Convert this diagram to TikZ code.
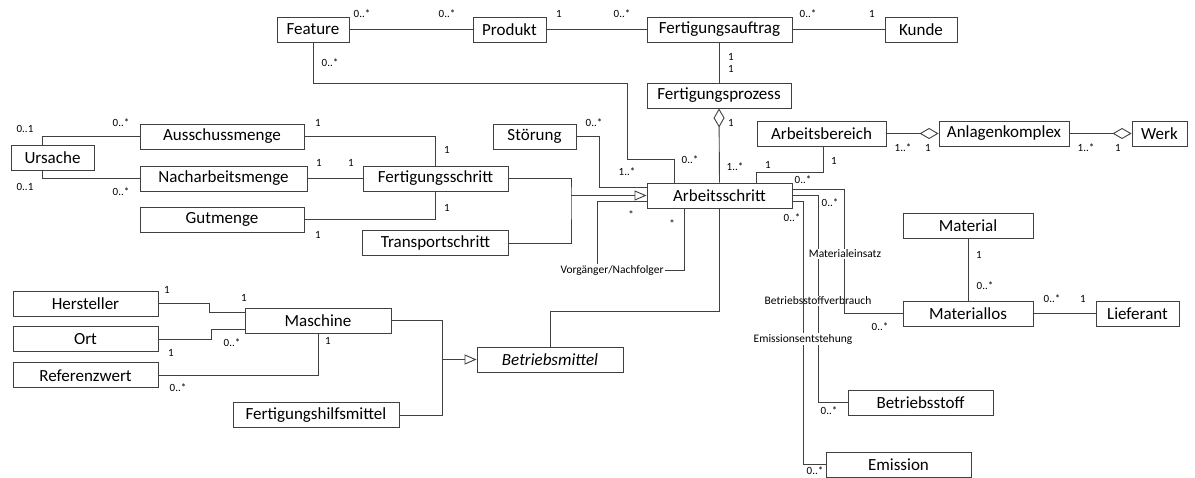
\documentclass[tikz,border=0pt]{standalone}
\usepackage{fontspec}
\setmainfont{Carlito}
\usepackage{tikz}
\usetikzlibrary{arrows.meta,positioning}

\begin{document}
\begin{tikzpicture}[x=1pt,y=-1pt]
\tikzstyle{main}=[rectangle, draw=black!75, line width=0.9pt, minimum height=25pt, inner sep=0pt, font=\fontsize{17}{20}\selectfont]
\tikzstyle{connect}=[draw=black!75, line width=0.9pt]
\tikzstyle{mult}=[font=\fontsize{11}{13}\selectfont, inner sep=0pt]
\tikzstyle{role}=[font=\fontsize{11.5}{13}\selectfont, inner sep=1pt, fill=white]
\tikzstyle{inherit}=[-{Triangle[open, length=12pt, width=10pt]}]
\tikzstyle{aggr}=[{Diamond[open, length=19pt, width=11pt]}-]
\useasboundingbox (0,0) rectangle (1195,478);

  % top row
  \node[main, minimum width=72pt] (feature) at (313,29.5) {Feature};
  \node[main, minimum width=73pt] (produkt) at (509.5,29.5) {Produkt};
  \node[main, minimum width=145pt] (fauftrag) at (719.5,29.5) {Fertigungsauftrag};
  \node[main, minimum width=72pt] (kunde) at (921,29.5) {Kunde};
  \node[main, minimum width=144pt] (fprozess) at (719,95.5) {Fertigungsprozess};
  \node[main, minimum width=129pt] (abereich) at (821.5,133.5) {Arbeitsbereich};
  \node[main, minimum width=130pt] (akomplex) at (1004,133.5) {Anlagenkomplex};
  \node[main, minimum width=55pt] (werk) at (1159.5,133.5) {Werk};
  % Arbeitsschritt und Umgebung
  \node[main, minimum width=83pt] (ursache) at (52.5,157.5) {Ursache};
  \node[main, minimum width=164pt] (ausschuss) at (222,136.5) {Ausschussmenge};
  \node[main, minimum width=167pt] (nacharbeit) at (223.5,178.5) {Nacharbeitsmenge};
  \node[main, minimum width=164pt] (gutmenge) at (222,219.5) {Gutmenge};
  \node[main, minimum width=145pt] (fschritt) at (435.5,178.5) {Fertigungsschritt};
  \node[main, minimum width=146pt] (tschritt) [below=39pt of fschritt] {Transportschritt};
  \node[main, minimum width=83pt] (stoerung) at (534.5,136.5) {Störung};
  \node[main, minimum width=145pt] (aschritt) at (719.5,195.5) {Arbeitsschritt};
  % Betriebsmittel
  \node[main, minimum width=145pt] (hersteller) at (85.5,303.5) {Hersteller};
  \node[main, minimum width=145pt] (ort) [below=10pt of hersteller] {Ort};
  \node[main, minimum width=145pt] (refwert) [below=10pt of ort] {Referenzwert};
  \node[main, minimum width=146pt] (maschine) at (318,320.5) {Maschine};
  \node[main, minimum width=166pt] (fhilfs) at (316,415) {Fertigungshilfsmittel};
  \node[main, minimum width=146pt] (bmittel) at (550,359.5) {\textit{Betriebsmittel}};
  % Material
  \node[main, minimum width=130pt] (material) at (968,225.5) {Material};
  \node[main, minimum width=130pt] (matlos) at (968,313.5) {Materiallos};
  \node[main, minimum width=83pt] (lieferant) at (1137.5,313.5) {Lieferant};
  \node[main, minimum width=145pt] (bstoff) at (920.5,402.5) {Betriebsstoff};
  \node[main, minimum width=145pt] (emission) at (898.5,464.5) {Emission};

  \coordinate (g1) at (571,195.5);
  \coordinate (g2) at (442.7,359.5);

  \path [connect]
    (feature) edge (produkt)
    (produkt) edge (fauftrag)
    (fauftrag) edge (kunde)
    (fauftrag.south) edge (fauftrag.south |- fprozess.north)
    (nacharbeit) edge (fschritt)
    (material) edge (matlos)
    (matlos) edge (lieferant);
  \draw[connect, aggr] (fprozess.south) -- (aschritt.north);
  \draw[connect, aggr] (akomplex.west) -- (abereich.east);
  \draw[connect, aggr] (werk.west) -- (akomplex.east);

  \draw[connect] (feature.south) |- (627,83) |- (674,159) -- ([xshift=-45.5pt]aschritt.north);
  \draw[connect] (stoerung.east) -| (599,187) -- ([yshift=8.5pt]aschritt.west);
  \draw[connect] ([xshift=1.8pt]abereich.south) -- ++(0,25.7) -| ([xshift=37.2pt]aschritt.north);

  \draw[connect] ([xshift=-9.8pt]ursache.north) |- (ausschuss.west);
  \draw[connect] ([xshift=-9.8pt]ursache.south) |- (nacharbeit.west);
  \draw[connect] (ausschuss.east) -| (fschritt.north);
  \draw[connect] (gutmenge.east) -| (fschritt.south);

  \draw[connect] (fschritt.east) -| (g1) |- (tschritt.east);
  \draw[connect, inherit] (g1) -- (aschritt.west);

  \node[role, fill=none] (vn) at (612,270) {Vorgänger/Nachfolger};
  \draw[connect] ([yshift=-6.2pt]aschritt.west) -| ([xshift=-15pt]vn.north);
  \draw[connect] (vn.east) -| ([xshift=-35.2pt]aschritt.south);

  \draw[connect] (aschritt.south) -- ++(0,103) -| (bmittel.north);
  \draw[connect] (maschine.east) -| (g2) |- (fhilfs.east);
  \draw[connect, inherit] (g2) -- (bmittel.west);

  \draw[connect] (hersteller.east) -- ++(51.3,0) |- ([yshift=8.5pt]maschine.west);
  \draw[connect] (ort.east) -- ++(52.7,0) |- ([yshift=-8.5pt]maschine.west);
  \draw[connect] (refwert.east) -| (maschine.south);

  % Materialeinsatz, Verbrauch, Emission
  \draw[connect] (aschritt.east) -- ++(26.3,0) |- (bstoff.west);
  \node[role] (rbv) at (818,301) {Betriebsstoffverbrauch};
  \draw[connect] ([yshift=-6.2pt]aschritt.east) -- ++(10.7,0) |- (emission.west);
  \node[role] (rem) at (803,339) {Emissionsentstehung};
  \draw[connect] ([yshift=6.2pt]aschritt.east) -- ++(52.3,0) |- (matlos.west);
  \node[role] (rme) at (845,254) {Materialeinsatz};

  % multiplicities
  \node[mult] (m1) at (362,14) {0..*};
  \node[mult] (m2) at (447,14) {0..*};
  \node[mult] (m3) at (559,14) {1};
  \node[mult] (m4) at (622,14) {0..*};
  \node[mult] (m5) at (808,14) {0..*};
  \node[mult] (m6) at (872,14) {1};
  \node[mult] (m7) at (731,57) {1};
  \node[mult] (m8) at (731,69) {1};
  \node[mult] (m9) at (731,123) {1};
  \node[mult] (m10) at (735,167) {1..*};
  \node[mult] (m11) at (330,63) {0..*};
  \node[mult] (m12) at (690,160) {0..*};
  \node[mult] (m13) at (594,123) {0..*};
  \node[mult] (m14) at (627,172) {1..*};
  \node[mult] (m15) at (631,215) {*};
  \node[mult] (m16) at (672,224) {*};
  \node[mult] (m17) at (167,290) {1};
  \node[mult] (m18) at (244,298) {1};
  \node[mult] (m19) at (171,353) {1};
  \node[mult] (m20) at (232,343) {0..*};
  \node[mult] (m21) at (178,388) {0..*};
  \node[mult] (m22) at (328,341) {1};
  \node[mult] (m23) at (25,129) {0..1};
  \node[mult] (m24) at (121,123) {0..*};
  \node[mult] (m25) at (25,187) {0..1};
  \node[mult] (m26) at (121,192) {0..*};
  \node[mult] (m27) at (318,123) {1};
  \node[mult] (m28) at (447,150) {1};
  \node[mult] (m29) at (319,163) {1};
  \node[mult] (m30) at (351,163) {1};
  \node[mult] (m31) at (318,235) {1};
  \node[mult] (m32) at (447,208) {1};
  \node[mult] (m33) at (903,148) {1..*};
  \node[mult] (m34) at (928,148) {1};
  \node[mult] (m35) at (1086,148) {1..*};
  \node[mult] (m36) at (1118,148) {1};
  \node[mult] (m37) at (768,165) {1};
  \node[mult] (m38) at (834,161) {1};
  \node[mult] (m39) at (803,180) {0..*};
  \node[mult] (m40) at (880,327) {0..*};
  \node[mult] (m41) at (830,203) {0..*};
  \node[mult] (m42) at (829,411) {0..*};
  \node[mult] (m43) at (792,218) {0..*};
  \node[mult] (m44) at (815,471) {0..*};
  \node[mult] (m45) at (979,255) {1};
  \node[mult] (m46) at (985,286) {0..*};
  \node[mult] (m47) at (1052,299) {0..*};
  \node[mult] (m48) at (1083,299) {1};
\end{tikzpicture}
\end{document}
